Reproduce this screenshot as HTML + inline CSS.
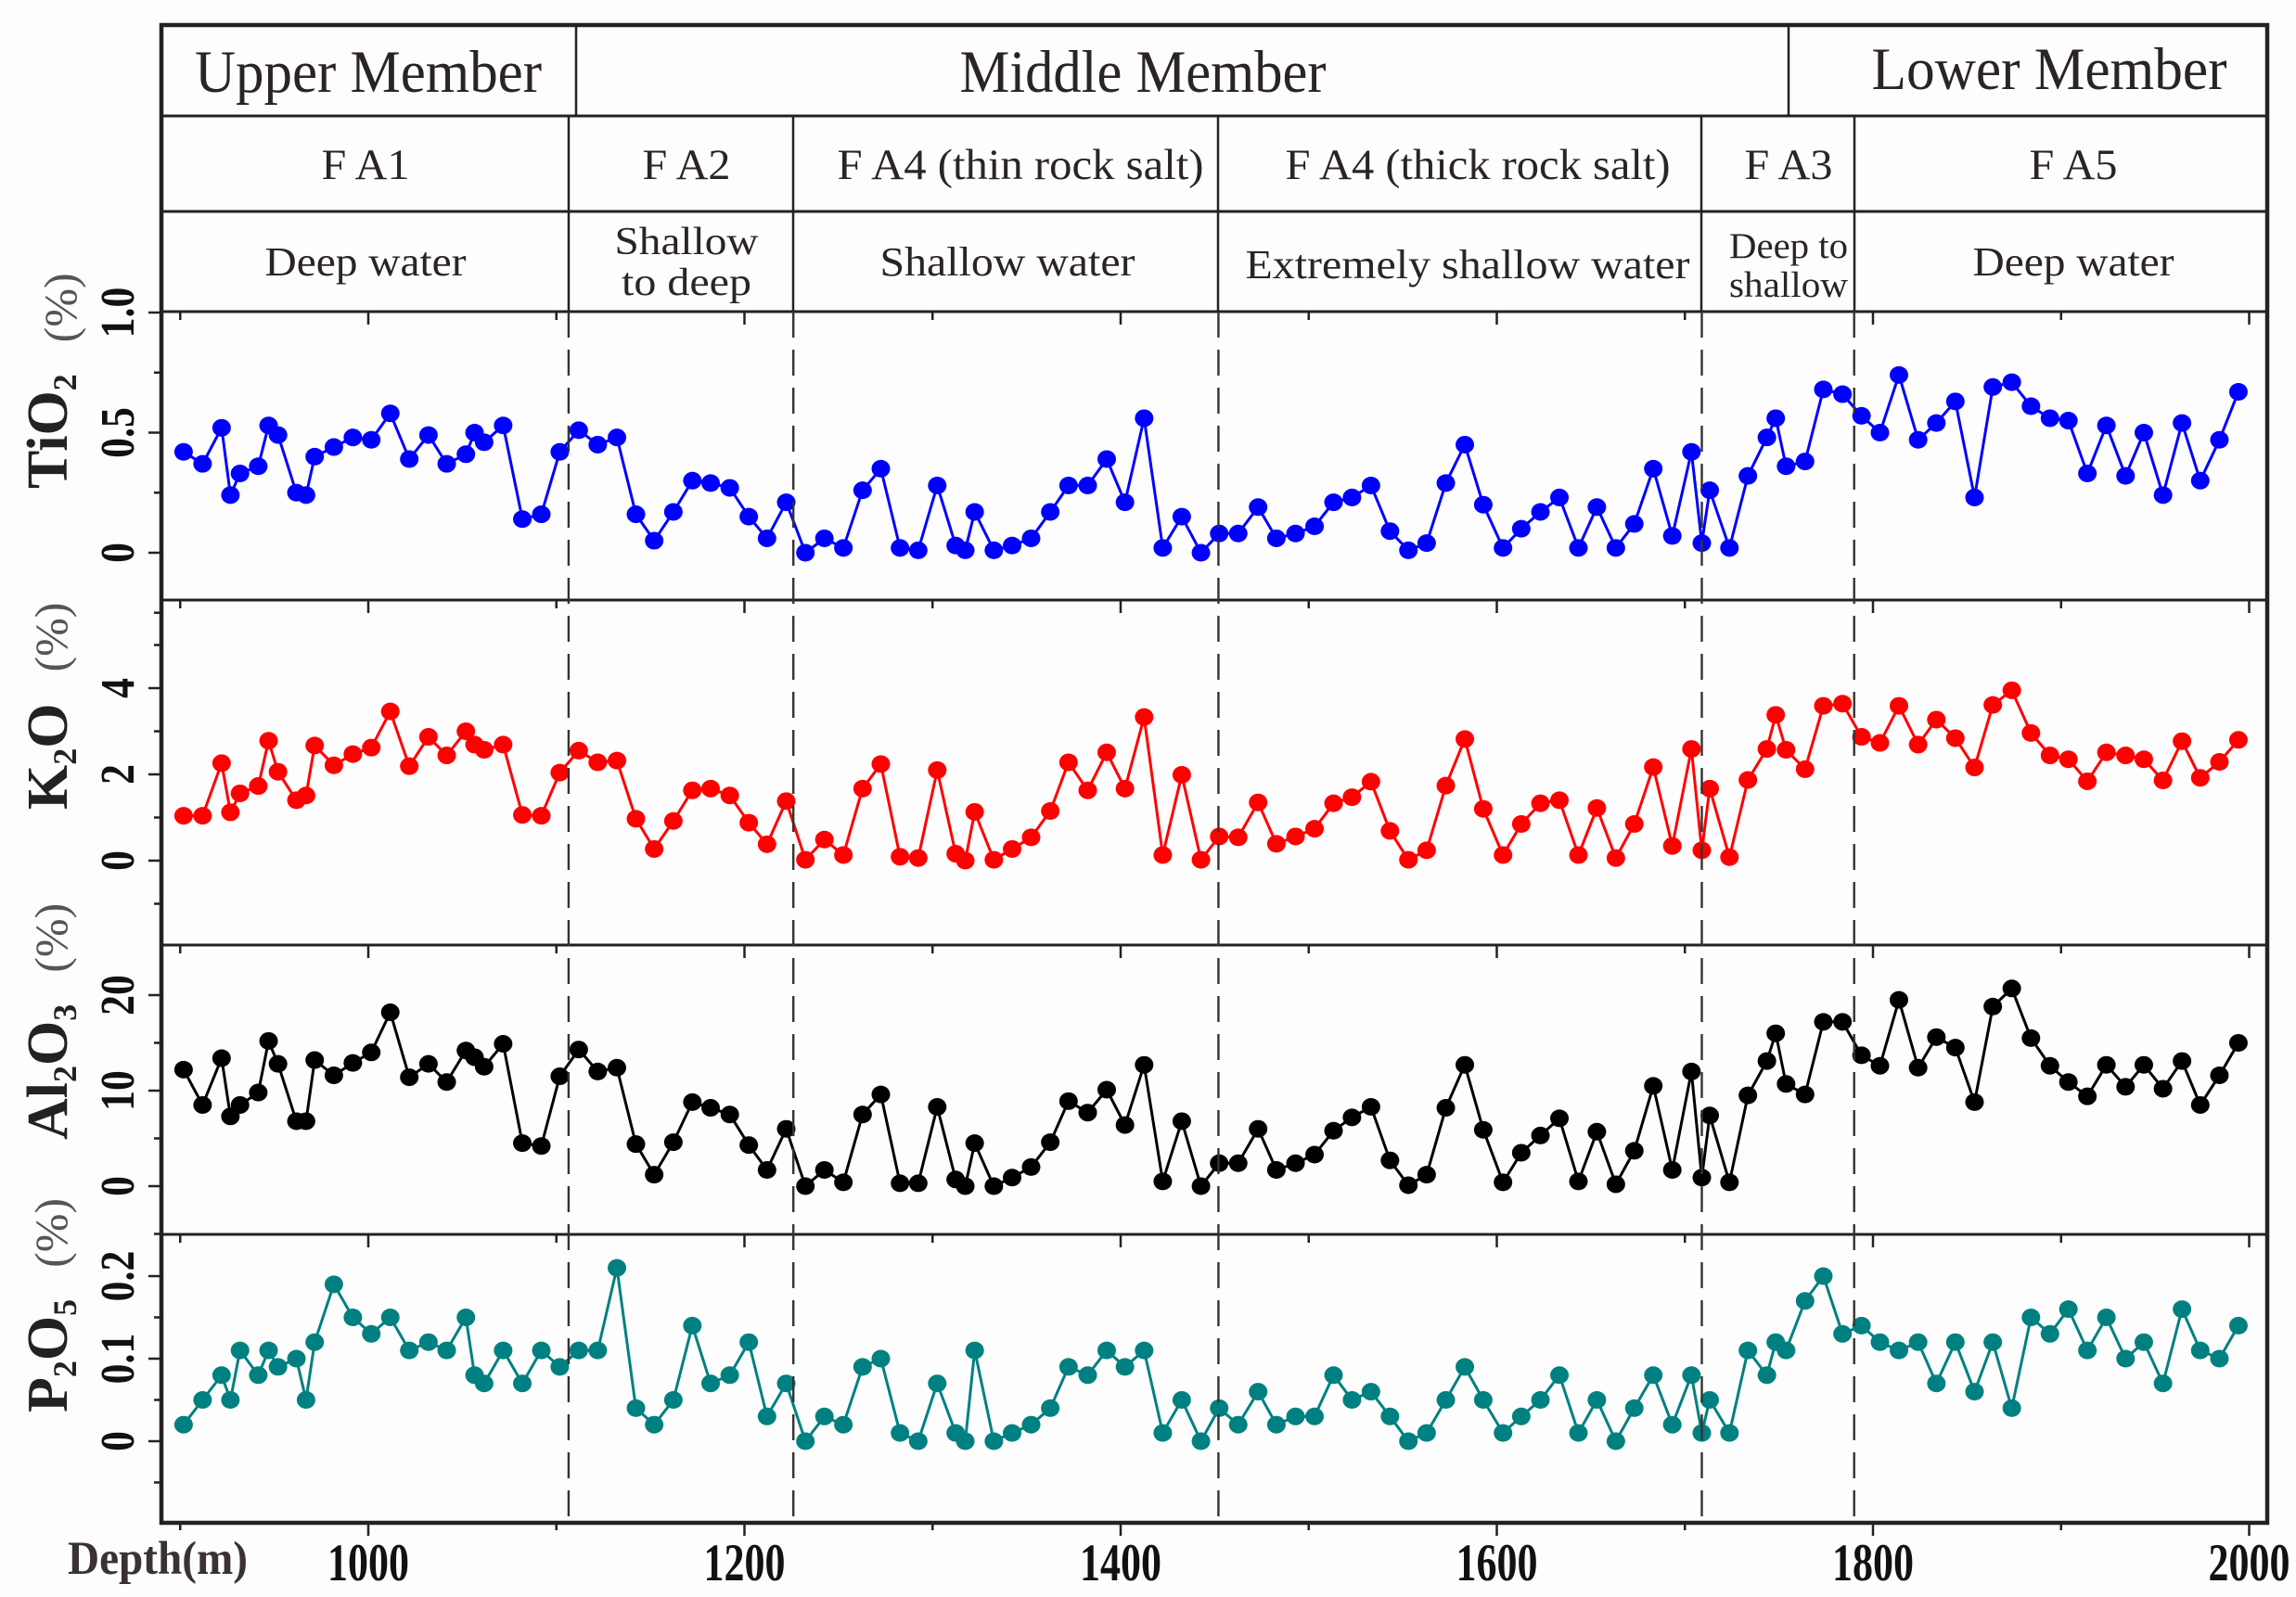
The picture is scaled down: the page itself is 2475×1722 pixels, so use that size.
<!DOCTYPE html>
<html><head><meta charset="utf-8">
<style>
html,body{margin:0;padding:0;background:#fdfdfd;}
svg{display:block;}
.hdr{font-family:"Liberation Serif",serif;fill:#2a2424;}
.tick{font-family:"Liberation Serif",serif;font-weight:bold;fill:#111;}
</style></head>
<body>
<svg id="chart" width="2475" height="1722" viewBox="0 0 2475 1722" xmlns="http://www.w3.org/2000/svg">
<rect x="0" y="0" width="2475" height="1722" fill="#fdfdfd"/>
<g id="header"></g>
<g id="panels"></g>
</svg>
<script>
const depths = [901.8,911.9,922,926.7,931.8,941.5,947,952,961.8,966.9,971.5,981.7,991.8,1001.6,1011.7,1021.8,1032,1041.7,1051.9,1056.5,1061.6,1071.7,1081.9,1092,1101.8,1111.9,1122,1132.2,1142.3,1152,1162.2,1172.3,1182,1192.2,1202.3,1212,1222.2,1232.4,1242.5,1252.6,1262.8,1272.5,1282.7,1292.4,1302.5,1312.3,1317.4,1322.4,1332.6,1342.3,1352.4,1362.6,1372.3,1382.5,1392.6,1402.3,1412.5,1422.4,1432.5,1442.7,1452.4,1462.5,1473.1,1482.8,1493,1503.1,1513.2,1523,1533.1,1543.2,1553,1562.7,1572.9,1583,1592.8,1603.3,1613,1623.2,1633.3,1643.4,1653.2,1663.3,1673.1,1683.2,1693.3,1703.5,1709,1713.2,1723.7,1733.5,1743.6,1748.3,1753.8,1763.9,1773.6,1783.8,1793.9,1803.7,1813.8,1824,1833.7,1843.8,1854,1863.7,1873.8,1884,1894.1,1903.9,1914,1924.1,1934.3,1944,1954.2,1964.3,1974,1984.2,1994.3];
const tio2 = [0.42,0.37,0.52,0.24,0.33,0.36,0.53,0.49,0.25,0.24,0.40,0.44,0.48,0.47,0.58,0.39,0.49,0.37,0.41,0.50,0.46,0.53,0.14,0.16,0.42,0.51,0.45,0.48,0.16,0.05,0.17,0.30,0.29,0.27,0.15,0.06,0.21,0.00,0.06,0.02,0.26,0.35,0.02,0.01,0.28,0.03,0.01,0.17,0.01,0.03,0.06,0.17,0.28,0.28,0.39,0.21,0.56,0.02,0.15,0.00,0.08,0.08,0.19,0.06,0.08,0.11,0.21,0.23,0.28,0.09,0.01,0.04,0.29,0.45,0.20,0.02,0.10,0.17,0.23,0.02,0.19,0.02,0.12,0.35,0.07,0.42,0.04,0.26,0.02,0.32,0.48,0.56,0.36,0.38,0.68,0.66,0.57,0.50,0.74,0.47,0.54,0.63,0.23,0.69,0.71,0.61,0.56,0.55,0.33,0.53,0.32,0.50,0.24,0.54,0.30,0.47,0.67];
const k2o = [1.04,1.04,2.26,1.12,1.56,1.73,2.78,2.06,1.40,1.51,2.67,2.21,2.47,2.62,3.46,2.19,2.87,2.44,3.0,2.69,2.57,2.69,1.06,1.04,2.04,2.55,2.28,2.32,0.97,0.27,0.92,1.63,1.67,1.51,0.88,0.38,1.38,0.02,0.49,0.13,1.67,2.24,0.09,0.06,2.1,0.16,0.0,1.13,0.02,0.27,0.54,1.15,2.28,1.63,2.51,1.67,3.33,0.13,1.99,0.02,0.56,0.54,1.35,0.39,0.56,0.74,1.33,1.47,1.83,0.69,0.02,0.24,1.74,2.82,1.2,0.13,0.85,1.33,1.4,0.13,1.22,0.06,0.85,2.17,0.34,2.59,0.24,1.67,0.08,1.87,2.59,3.38,2.57,2.12,3.59,3.64,2.87,2.73,3.59,2.69,3.27,2.84,2.16,3.61,3.95,2.96,2.44,2.35,1.84,2.51,2.44,2.35,1.86,2.77,1.92,2.29,2.8];
const al2o3 = [12.2,8.5,13.4,7.3,8.5,9.8,15.2,12.8,6.8,6.8,13.2,11.6,12.9,14.0,18.2,11.4,12.8,10.9,14.2,13.5,12.5,14.9,4.5,4.2,11.5,14.3,12.0,12.4,4.4,1.2,4.6,8.8,8.2,7.5,4.3,1.7,6.0,0,1.7,0.4,7.5,9.6,0.3,0.3,8.3,0.7,0,4.5,0,0.9,2.0,4.6,8.9,7.7,10.1,6.4,12.7,0.5,6.8,0,2.4,2.4,6.0,1.7,2.4,3.3,5.8,7.2,8.3,2.7,0.1,1.2,8.2,12.7,5.9,0.4,3.5,5.3,7.1,0.5,5.7,0.2,3.7,10.5,1.7,12.0,0.9,7.4,0.4,9.5,13.1,16.0,10.7,9.6,17.2,17.2,13.7,12.6,19.5,12.4,15.6,14.5,8.8,18.8,20.7,15.5,12.6,10.9,9.4,12.7,10.4,12.7,10.2,13.1,8.5,11.6,15.0];
const p2o5 = [0.02,0.05,0.08,0.05,0.11,0.08,0.11,0.09,0.10,0.05,0.12,0.19,0.15,0.13,0.15,0.11,0.12,0.11,0.15,0.08,0.07,0.11,0.07,0.11,0.09,0.11,0.11,0.21,0.04,0.02,0.05,0.14,0.07,0.08,0.12,0.03,0.07,0,0.03,0.02,0.09,0.10,0.01,0,0.07,0.01,0,0.11,0,0.01,0.02,0.04,0.09,0.08,0.11,0.09,0.11,0.01,0.05,0,0.04,0.02,0.06,0.02,0.03,0.03,0.08,0.05,0.06,0.03,0,0.01,0.05,0.09,0.05,0.01,0.03,0.05,0.08,0.01,0.05,0,0.04,0.08,0.02,0.08,0.01,0.05,0.01,0.11,0.08,0.12,0.11,0.17,0.20,0.13,0.14,0.12,0.11,0.12,0.07,0.12,0.06,0.12,0.04,0.15,0.13,0.16,0.11,0.15,0.10,0.12,0.07,0.16,0.11,0.10,0.14];
const xTickDepths = [900,1000,1100,1200,1300,1400,1500,1600,1700,1800,1900,2000];
const xTickLabels = ["1000","1200","1400","1600","1800","2000"];
const boundaryDepths = [1106.5,1226,1452,1709,1790];

const NS = "http://www.w3.org/2000/svg";
const svg = document.getElementById('chart');
const hdr = document.getElementById('header');
const pan = document.getElementById('panels');
const L = 174, R = 2444, TOP = 27;
function xs(d){ return 397 + (d - 1000) * 2.0275; }
function mk(tag, attrs, parent){
  const e = document.createElementNS(NS, tag);
  for (const k in attrs) e.setAttribute(k, attrs[k]);
  (parent || svg).appendChild(e);
  return e;
}

// ---- header table ----
let e;
e = mk('line',{x1:L,y1:125,x2:R,y2:125,stroke:'#222','stroke-width':3},hdr);
 
e = mk('line',{x1:L,y1:228,x2:R,y2:228,stroke:'#222','stroke-width':3},hdr);
 
[621,1928].forEach(function(x){
  const l = mk('line',{x1:x,y1:27,x2:x,y2:125,stroke:'#222','stroke-width':2.5},hdr);
  
  
});
const faDiv = [613,855,1313,1834,1999];
faDiv.forEach(function(x){
  const l = mk('line',{x1:x,y1:125,x2:x,y2:336,stroke:'#222','stroke-width':2.5},hdr);
  
  
});
function htext(txt, cx, y, size, len, sy, name){
  const t = mk('text',{x:0,y:0,'text-anchor':'middle','font-size':size,'class':'hdr',textLength:len,lengthAdjust:'spacingAndGlyphs',transform:'translate('+cx+','+y+') scale(1,'+sy+')'},hdr);
  t.textContent = txt;
  
  
  return t;
}
htext('Upper  Member',397,99,46,374,1.4,'upper-member-label');
htext('Middle  Member',1232,99,46,395,1.4,'middle-member-label');
htext('Lower  Member',2209,96,46,383,1.4,'lower-member-label');
htext('F A1',394,193,36,95,1.3,'fa1-label');
htext('F A2',740,193,36,95,1.3,'fa2-label');
htext('F A4 (thin rock salt)',1100,193,36,395,1.3,'fa4-thin-label');
htext('F A4 (thick rock salt)',1593,193,36,415,1.3,'fa4-thick-label');
htext('F A3',1928,193,36,95,1.3,'fa3-label');
htext('F A5',2235,193,36,95,1.3,'fa5-label');
htext('Deep water',394,297,33,217,1.35,'deep-water-label');
htext('Shallow',740,274,31,155,1.35,'shallow-to-deep-label-1');
htext('to deep',740,318,31,140,1.35,'shallow-to-deep-label-2');
htext('Shallow water',1086,297,33,275,1.35,'shallow-water-label');
htext('Extremely shallow water',1582,300,33,479,1.35,'extremely-shallow-water-label');
htext('Deep to',1928,278,29,128,1.35,'deep-to-shallow-label-1');
htext('shallow',1928,320,29,128,1.35,'deep-to-shallow-label-2');
htext('Deep water',2235,297,33,217,1.35,'deep-water-label-fa5');

// ---- panels ----
const panels = [
  {name:'tio2', top:336, bot:647, v0:596, pu:259, vals:tio2, color:'#0000ff', majors:[0,0.5,1.0], labels:['0','0.5','1.0'], minors:[-0.25,0.25,0.75], main:'TiO', sub:'2', main2:'', sub2:'', tstart:527},
  {name:'k2o', top:647, bot:1019, v0:928, pu:46.5, vals:k2o, color:'#ff0000', majors:[0,2,4], labels:['0','2','4'], minors:[-1,1,3,5], main:'K', sub:'2', main2:'O', sub2:'', tstart:873},
  {name:'al2o3', top:1019, bot:1331, v0:1279, pu:10.3, vals:al2o3, color:'#000000', majors:[0,10,20], labels:['0','10','20'], minors:[-5,5,15], main:'Al', sub:'2', main2:'O', sub2:'3', tstart:1229},
  {name:'p2o5', top:1331, bot:1642, v0:1554, pu:890, vals:p2o5, color:'#008080', majors:[0,0.1,0.2], labels:['0','0.1','0.2'], minors:[-0.05,0.05,0.15], main:'P', sub:'2', main2:'O', sub2:'5', tstart:1523}
];

panels.forEach(function(p){
  const g = mk('g',{},pan);
  
  
  function ys(v){ return p.v0 - v * p.pu; }
  const sep = mk('line',{x1:L,y1:p.top,x2:R,y2:p.top,stroke:'#222','stroke-width':3},g);
  
  
  xTickDepths.forEach(function(d){
    const big = (d % 200 === 0);
    const t = mk('line',{x1:xs(d),y1:p.top,x2:xs(d),y2:p.top+(big?14:9),stroke:'#222','stroke-width':2.5},g);
    
    
  });
  p.majors.forEach(function(v,i){
    const t = mk('line',{x1:L-14,y1:ys(v),x2:L,y2:ys(v),stroke:'#222','stroke-width':2.5},g);
    
    
    const y = ys(v);
    const lab = mk('text',{x:0,y:0,'class':'tick','font-size':46,'text-anchor':'middle',transform:'translate(144,'+y+') rotate(-90) scale(0.95,1.12)'},g);
    lab.textContent = p.labels[i];
    
    
  });
  p.minors.forEach(function(v){
    const t = mk('line',{x1:L-8,y1:ys(v),x2:L,y2:ys(v),stroke:'#222','stroke-width':2.5},g);
    
    
  });
  const tt = mk('text',{x:0,y:0,'font-family':'"Liberation Serif",serif','font-weight':'bold','font-size':62,fill:'#222',transform:'translate(72,'+p.tstart+') rotate(-90)'},g);
  
  
  let s = mk('tspan',{},tt); s.textContent = p.main;
  s = mk('tspan',{'font-size':36,dy:10},tt); s.textContent = p.sub;
  if (p.main2){ s = mk('tspan',{dy:-10},tt); s.textContent = p.main2; }
  if (p.sub2){ s = mk('tspan',{'font-size':36,dy:10},tt); s.textContent = p.sub2; }
  s = mk('tspan',{'font-weight':'normal','font-size':50,fill:'#555',dy:(p.sub2? -10 : 0),dx:34},tt); s.textContent = '(%)';
  const pts = depths.map(function(d,i){ return xs(d).toFixed(1)+','+ys(p.vals[i]).toFixed(1); }).join(' ');
  const pl = mk('polyline',{points:pts,fill:'none',stroke:p.color,'stroke-width':3},g);
  
  
  depths.forEach(function(d,i){
    const c = mk('ellipse',{cx:xs(d),cy:ys(p.vals[i]),rx:10,ry:9.5,fill:p.color},g);
    
    
  });
});

boundaryDepths.forEach(function(d){
  const l = mk('line',{x1:xs(d),y1:336,x2:xs(d),y2:1642,stroke:'#333','stroke-width':2.4,'stroke-dasharray':'28,13'},pan);
  
  
});

const fr = mk('rect',{x:L,y:TOP,width:R-L,height:1642-TOP,fill:'none',stroke:'#222','stroke-width':4.5},pan);



xTickDepths.forEach(function(d){
  const big = (d % 200 === 0);
  const t = mk('line',{x1:xs(d),y1:1642,x2:xs(d),y2:1642+(big?14:8),stroke:'#222','stroke-width':2.5},pan);
  
  
});
xTickLabels.forEach(function(lbl){
  const d = parseFloat(lbl);
  const t = mk('text',{x:0,y:0,'class':'tick','font-size':44,'text-anchor':'middle',transform:'translate('+xs(d)+',1704) scale(1,1.3)'},pan);
  t.textContent = lbl;
  
  
});
const dl = mk('text',{x:0,y:0,'font-family':'"Liberation Serif",serif','font-weight':'bold','font-size':42,fill:'#3a3232',transform:'translate(73,1697) scale(1,1.2)',textLength:194,lengthAdjust:'spacingAndGlyphs'},pan);
dl.textContent = 'Depth(m)';


</script>
</body></html>
